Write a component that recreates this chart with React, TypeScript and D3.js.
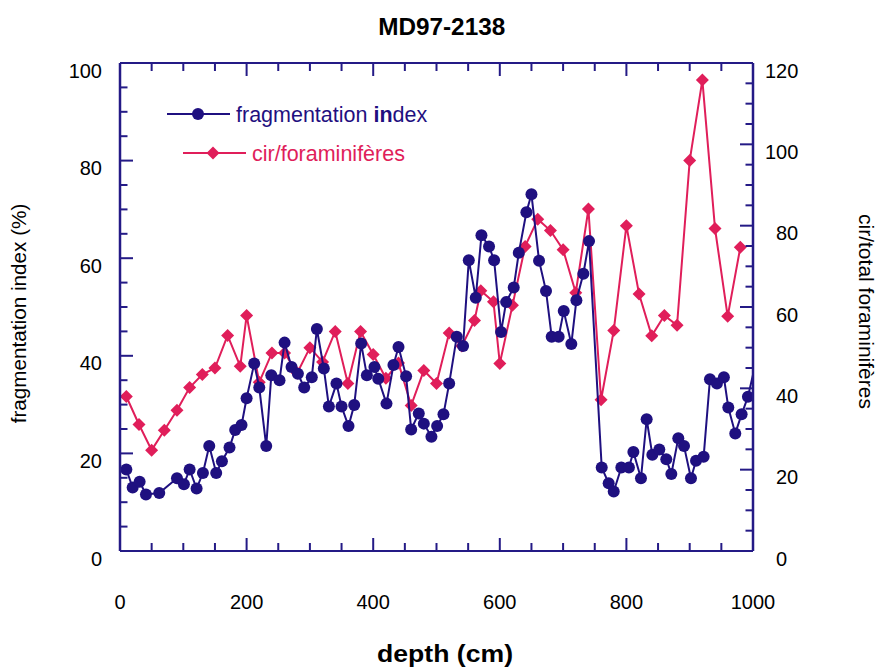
import React from "react";
import * as d3 from "d3";

const blueDepth = [10,20,31,41,62,90,101,110,121,131,141,152,161,173,182,192,200,212,220,231,239,252,260,271,281,291,303,311,322,330,342,350,361,370,381,390,402,408,421,432,440,452,460,472,480,492,501,511,520,532,542,551,562,571,583,591,602,610,622,630,642,650,662,673,682,693,701,713,721,732,741,761,772,780,792,804,811,823,832,841,852,863,871,882,891,902,910,922,932,943,954,961,972,982,992,1010];
const fragIndex = [16.7,13.0,14.2,11.6,11.9,14.9,13.7,16.7,12.8,16.0,21.5,16.0,18.4,21.2,24.8,25.8,31.3,38.4,33.5,21.5,36.0,35.0,42.7,37.7,36.3,33.5,35.6,45.5,37.4,29.6,34.3,29.6,25.6,29.9,42.5,36.0,37.7,35.3,30.2,38.1,41.8,35.8,24.9,28.2,26.1,23.4,25.6,28.0,34.3,43.9,42.0,59.6,51.9,64.7,62.4,59.6,44.9,51.0,54.0,61.1,69.4,73.1,59.5,53.3,43.9,43.9,49.2,42.4,51.4,56.8,63.5,17.1,13.9,12.2,17.1,17.1,20.3,14.9,27.0,19.7,20.8,18.8,15.8,23.1,21.5,14.9,18.5,19.3,35.2,34.3,35.6,29.4,24.1,28.0,31.6,41.8];

const pinkDepth = [10,30,50,70,90,110,130,150,170,190,200,220,240,260,280,300,320,340,360,380,400,420,440,460,480,500,520,540,560,570,590,600,620,640,660,680,700,720,740,760,780,800,820,840,860,880,900,920,940,960,980];
const cirTotal = [38.0,31.1,24.8,29.7,34.6,40.2,43.4,45.0,53.0,45.4,57.9,41.5,48.7,48.7,43.8,50.0,46.5,54.0,41.2,54.0,48.3,42.5,46.2,35.8,44.4,41.2,53.6,50.4,56.7,64.0,61.3,46.1,60.4,74.9,81.6,78.8,74.1,63.5,84.1,37.2,54.2,80.0,63.2,52.9,57.9,55.5,96.0,115.8,79.3,57.7,74.7];

const xTickLabels = [0, 200, 400, 600, 800, 1000];
const leftTickLabels = [0, 20, 40, 60, 80, 100];
const rightTickLabels = [0, 20, 40, 60, 80, 100, 120];

const BLUE = "#1f1080";
const PINK = "#e01e5a";
const AXIS = "#241a86";
const FONT = "'Liberation Sans', Arial, sans-serif";

const L = 120, R = 753, T = 63, B = 551;

export default function App() {
  const x = d3.scaleLinear().domain([0, 1000]).range([L, R]);
  const yL = d3.scaleLinear().domain([0, 100]).range([B, T]);
  const yR = d3.scaleLinear().domain([0, 120]).range([B, T]);

  const blueData = blueDepth.map((d, i) => [d, fragIndex[i]] as [number, number]);
  const pinkData = pinkDepth.map((d, i) => [d, cirTotal[i]] as [number, number]);

  const blueLine = d3.line<[number, number]>().x(d => x(d[0])).y(d => yL(d[1]))(blueData) || "";
  const pinkLine = d3.line<[number, number]>().x(d => x(d[0])).y(d => yR(d[1]))(pinkData) || "";

  const xMinor = d3.range(0, 1001, 50);
  const lMinor = d3.range(0, 101, 5);
  const rMinor = d3.range(0, 121, 5);

  const diamond = (cx: number, cy: number, s: number) =>
    `M${cx},${cy - s}L${cx + s},${cy}L${cx},${cy + s}L${cx - s},${cy}Z`;

  return (
    <div style={{ position: "absolute", left: 0, top: 0 }}>
      <svg width={877} height={668} style={{ display: "block", background: "#fff" }}>
        <defs>
          <clipPath id="plotclip">
            <rect x={L} y={T - 10} width={R - L} height={B - T + 10} />
          </clipPath>
        </defs>
        <text x={441.7} y={35} textAnchor="middle" fontFamily={FONT} fontWeight="bold" fontSize={23.5} textLength={127} lengthAdjust="spacingAndGlyphs">MD97-2138</text>

        {/* data */}
        <g clipPath="url(#plotclip)">
          <path d={pinkLine} fill="none" stroke={PINK} strokeWidth={2} />
          {pinkData.map((d, i) => (
            <path key={"p" + i} d={diamond(x(d[0]), yR(d[1]), 6.5)} fill={PINK} />
          ))}
          <path d={blueLine} fill="none" stroke={BLUE} strokeWidth={2} />
          {blueData.map((d, i) => (
            <circle key={"b" + i} cx={x(d[0])} cy={yL(d[1])} r={6} fill={BLUE} />
          ))}
        </g>

        {/* frame */}
        <line x1={L} x2={R} y1={T} y2={T} stroke={AXIS} strokeWidth={2} />
        <line x1={L} x2={R} y1={B} y2={B} stroke={AXIS} strokeWidth={2} />
        <line x1={L} x2={L} y1={T} y2={B} stroke={AXIS} strokeWidth={2.5} />
        <line x1={R} x2={R} y1={T} y2={B} stroke={AXIS} strokeWidth={2.5} />

        {xMinor.map(v => {
          const len = v % 200 === 0 ? 13 : 8;
          return (
            <g key={"xt" + v}>
              <line x1={x(v)} x2={x(v)} y1={B} y2={B - len} stroke={AXIS} strokeWidth={2} />
              <line x1={x(v)} x2={x(v)} y1={T} y2={T + len} stroke={AXIS} strokeWidth={2} />
            </g>
          );
        })}
        {lMinor.map(v => (
          <line key={"lt" + v} x1={L} x2={L + (v % 20 === 0 ? 13 : 7.5)} y1={yL(v)} y2={yL(v)} stroke={AXIS} strokeWidth={2} />
        ))}
        {rMinor.map(v => (
          <line key={"rt" + v} x1={R} x2={R - (v % 20 === 0 ? 13 : 7.5)} y1={yR(v)} y2={yR(v)} stroke={AXIS} strokeWidth={2} />
        ))}

        {/* tick labels */}
        {xTickLabels.map(v => (
          <text key={"xl" + v} x={x(v)} y={609} textAnchor="middle" fontFamily={FONT} fontSize={20}>{v}</text>
        ))}
        {leftTickLabels.map(v => (
          <text key={"ll" + v} x={102} y={yL(v) + 14.5} textAnchor="end" fontFamily={FONT} fontSize={20}>{v}</text>
        ))}
        {rightTickLabels.map(v => (
          <text key={"rl" + v} x={v >= 100 ? 765 : 776} y={yR(v) + 14.5} textAnchor="start" fontFamily={FONT} fontSize={20}>{v}</text>
        ))}

        {/* axis titles */}
        <text x={445} y={662} textAnchor="middle" fontFamily={FONT} fontWeight="bold" fontSize={24} textLength={136} lengthAdjust="spacingAndGlyphs">depth (cm)</text>
        <text transform="translate(26,313.5) rotate(-90)" textAnchor="middle" fontFamily={FONT} fontSize={20.7}>fragmentation index (%)</text>
        <text transform="translate(859,311.5) rotate(90)" textAnchor="middle" fontFamily={FONT} fontSize={21}>cir/total foraminifères</text>

        {/* legend */}
        <line x1={167} x2={230} y1={114} y2={114} stroke={BLUE} strokeWidth={2} />
        <circle cx={198} cy={114} r={6} fill={BLUE} />
        <text x={236} y={122} fontFamily={FONT} fontSize={21.5} fill={BLUE}>
          fragmentation <tspan fontWeight="bold">in</tspan>dex
        </text>
        <line x1={183} x2={246} y1={153} y2={153} stroke={PINK} strokeWidth={2} />
        <path d={diamond(213, 153, 6.5)} fill={PINK} />
        <text x={252} y={161} fontFamily={FONT} fontSize={21.5} fill={PINK}>cir/foraminifères</text>
      </svg>
    </div>
  );
}
